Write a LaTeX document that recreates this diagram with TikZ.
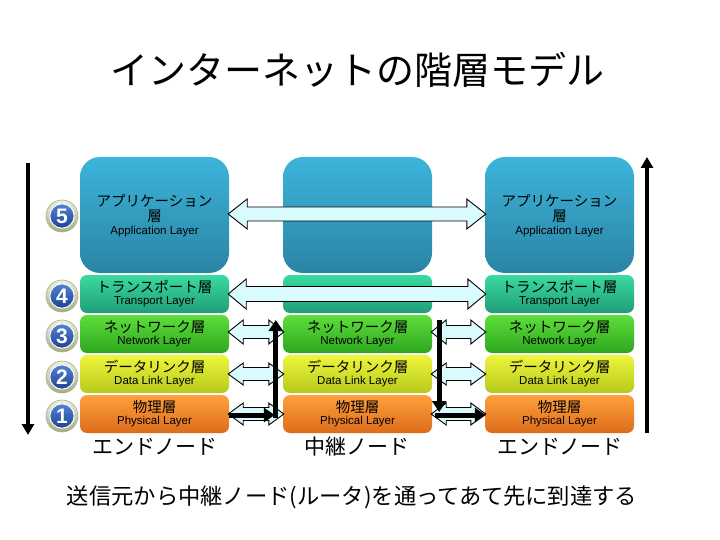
\documentclass[tikz,border=0pt]{standalone}
\usepackage{fontspec}
\setmainfont{Liberation Sans}
\newfontfamily\jp{Noto Sans CJK JP}
\usetikzlibrary{arrows.meta,calc}
\definecolor{appT}{HTML}{3DB4DA}
\definecolor{appB}{HTML}{2A84A4}
\definecolor{trnT}{HTML}{3ADA9F}
\definecolor{trnB}{HTML}{209E76}
\definecolor{netT}{HTML}{5EDE3A}
\definecolor{netB}{HTML}{2DA620}
\definecolor{dlT}{HTML}{EEF53C}
\definecolor{dlB}{HTML}{B6C91C}
\definecolor{phT}{HTML}{FFA03C}
\definecolor{phB}{HTML}{DC6C1C}
\definecolor{arrowfill}{HTML}{D9FBFD}
\definecolor{ringT}{HTML}{EEF0E0}
\definecolor{ringB}{HTML}{A4AC84}
\definecolor{ballT}{HTML}{5A8EE0}
\definecolor{ballB}{HTML}{17368A}
\newcommand{\fatarrow}[5]{%
  \draw[fat] (#1) -- ($(#1)+(#5,-#4)$) -- ($(#1)+(#5,-#3)$) -- ($(#2)+(-#5,-#3)$) -- ($(#2)+(-#5,-#4)$) -- (#2)
   -- ($(#2)+(-#5,#4)$) -- ($(#2)+(-#5,#3)$) -- ($(#1)+(#5,#3)$) -- ($(#1)+(#5,#4)$) -- cycle;}
\tikzset{
  lyr/.style={rounded corners=7pt, minimum width=149pt, minimum height=38pt, inner sep=0pt},
  appbox/.style={lyr, rounded corners=20pt, minimum height=116pt, top color=appT, bottom color=appB},
  trnbox/.style={lyr, top color=trnT, bottom color=trnB},
  netbox/.style={lyr, top color=netT, bottom color=netB},
  dlbox/.style={lyr, top color=dlT, bottom color=dlB},
  phbox/.style={lyr, top color=phT, bottom color=phB},
  jl/.style={font=\jp\fontsize{14.5}{16}\selectfont, inner sep=0pt},
  el/.style={font=\fontsize{11.5}{13}\selectfont, inner sep=0pt},
  fat/.style={draw=black, fill=arrowfill, line width=0.9pt, line join=miter},
  route/.style={line width=5pt, -{Triangle[length=11pt,width=14pt]}},
  updown/.style={line width=3.6pt, -{Triangle[length=11pt,width=12pt]}},
  nodelbl/.style={font=\jp\fontsize{21}{24}\selectfont, inner sep=0pt},
  numball/.style={circle, minimum size=32pt, inner sep=0pt, draw=ringB, line width=0.6pt,
    top color=ringT, bottom color=ringB, text=white,
    font=\bfseries\fontsize{21}{21}\selectfont,
    path picture={\shade[top color=ballT, bottom color=ballB, draw=white, line width=1pt]
      (path picture bounding box.center) circle (12.2pt);}}
}
\begin{document}
\begin{tikzpicture}[x=1pt,y=-1pt]
\useasboundingbox[fill=white] (0,0) rectangle (720,540);

% title
\node[font=\jp\fontsize{38}{40}\selectfont, inner sep=0pt] (title) at (357,70) {インターネットの階層モデル};

% left column
\node[appbox] (L5) at (154.5,215) {};
\node[trnbox] (L4) at (154.5,294) {};
\node[netbox] (L3) at (154.5,334) {};
\node[dlbox]  (L2) at (154.5,374) {};
\node[phbox]  (L1) at (154.5,414) {};
% middle column
\node[appbox] (M5) at (357.5,215) {};
\node[trnbox] (M4) at (357.5,294) {};
\node[netbox] (M3) at (357.5,334) {};
\node[dlbox]  (M2) at (357.5,374) {};
\node[phbox]  (M1) at (357.5,414) {};
% right column
\node[appbox] (R5) at (559.5,215) {};
\node[trnbox] (R4) at (559.5,294) {};
\node[netbox] (R3) at (559.5,334) {};
\node[dlbox]  (R2) at (559.5,374) {};
\node[phbox]  (R1) at (559.5,414) {};

% labels: application
\node[jl] (L5a) at ($(L5)+(0,-14)$) {アプリケーション};
\node[jl] (L5b) at ($(L5)+(0,1)$) {層};
\node[el] (L5c) at ($(L5)+(0,16.5)$) {Application Layer};
\node[jl] (R5a) at ($(R5)+(0,-14)$) {アプリケーション};
\node[jl] (R5b) at ($(R5)+(0,1)$) {層};
\node[el] (R5c) at ($(R5)+(0,16.5)$) {Application Layer};
% transport
\node[jl] (L4a) at ($(L4)+(0,-7)$) {トランスポート層};
\node[el] (L4b) at ($(L4)+(0,7.5)$) {Transport Layer};
\node[jl] (R4a) at ($(R4)+(0,-7)$) {トランスポート層};
\node[el] (R4b) at ($(R4)+(0,7.5)$) {Transport Layer};
% network, data link, physical
\foreach \c in {L,M,R}{
  \node[jl] (\c3a) at ($(\c3)+(0,-7)$) {ネットワーク層};
  \node[el] (\c3b) at ($(\c3)+(0,7.5)$) {Network Layer};
  \node[jl] (\c2a) at ($(\c2)+(0,-7)$) {データリンク層};
  \node[el] (\c2b) at ($(\c2)+(0,7.5)$) {Data Link Layer};
  \node[jl] (\c1a) at ($(\c1)+(0,-7)$) {物理層};
  \node[el] (\c1b) at ($(\c1)+(0,7.5)$) {Physical Layer};
}

% fat double arrows
\fatarrow{$(L5.east)+(-1,-1)$}{$(R5.west)+(1,-1)$}{7}{15}{19}
\fatarrow{$(L4.east)+(-1,0)$}{$(R4.west)+(1,0)$}{7.5}{15}{18}
\fatarrow{$(L3.east)+(-1,-2)$}{$(M3.west)+(1,-2)$}{6.5}{12}{15}
\fatarrow{$(M3.east)+(-1,-2)$}{$(R3.west)+(1,-2)$}{6.5}{12}{15}
\fatarrow{$(L2.east)+(-1,0)$}{$(M2.west)+(1,0)$}{6.5}{11}{15}
\fatarrow{$(M2.east)+(-1,0)$}{$(R2.west)+(1,0)$}{6.5}{11}{15}
\fatarrow{$(L1.east)+(-1,0)$}{$(M1.west)+(1,0)$}{6.5}{11}{15}
\fatarrow{$(M1.east)+(-1,0)$}{$(R1.west)+(1,0)$}{6.5}{11}{15}

% route arrows
\draw[route] ($(L1.east)+(0,1)$) -- ($(M1.west)+(-8,1)$);
\draw[route] ($(M1.west)+(-7,4)$) -- ($(M3.west)+(-7,-14)$);
\draw[route] ($(M3.east)+(7,-14)$) -- ($(M1.east)+(7,-2)$);
\draw[route] ($(M1.east)+(3,1)$) -- ($(R1.west)+(1,1)$);

% outer vertical arrows
\coordinate (dtop) at (28,163);
\coordinate (dbot) at (28,435);
\draw[updown] (dtop) -- (dbot);
\coordinate (utop) at (647,157);
\coordinate (ubot) at (647,433);
\draw[updown] (ubot) -- (utop);

% number balls
\node[numball] (n5) at (62,216) {5};
\node[numball] (n4) at (62,296) {4};
\node[numball] (n3) at (62,336) {3};
\node[numball] (n2) at (62,377) {2};
\node[numball] (n1) at (62,416) {1};

% node names
\node[nodelbl] (endL) at (155,447) {エンドノード};
\node[nodelbl] (relay) at (357,447) {中継ノード};
\node[nodelbl] (endR) at (560,447) {エンドノード};

% caption
\node[font=\jp\fontsize{22.3}{24}\selectfont, inner sep=0pt] (cap) at (352,497) {送信元から中継ノード(ルータ)を通ってあて先に到達する};
\end{tikzpicture}
\end{document}
